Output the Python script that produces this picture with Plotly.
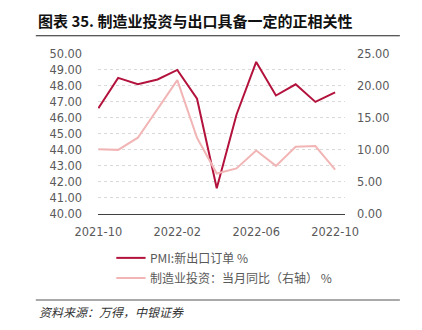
import plotly.graph_objects as go

W, H = 422, 330

months = ["2021-10", "2021-11", "2021-12", "2022-01", "2022-02", "2022-03", "2022-04",
          "2022-05", "2022-06", "2022-07", "2022-08", "2022-09", "2022-10"]
pmi_export = [46.6, 48.5, 48.1, 48.4, 49.0, 47.2, 41.6, 46.2, 49.5, 47.4, 48.1, 47.0, 47.6]
mfg_invest = [10.1, 10.0, 11.9, None, 20.9, 11.9, 6.3, 7.1, 9.9, 7.5, 10.5, 10.6, 6.9]
tick_labels = ["2021-10", "2022-02", "2022-06", "2022-10"]

title = "图表 35. 制造业投资与出口具备一定的正相关性"
name_pmi = "PMI:新出口订单 %"
name_inv = "制造业投资：当月同比（右轴） %"
source = "资料来源：万得，中银证券"

c_pmi = "#B3123C"
c_inv = "#F2B5B5"
grey = "#595959"

def px(x):
    return x / W

def py(y):
    return 1 - y / H

xs = list(range(len(months)))
tickvals = [months.index(t) for t in tick_labels]

fig = go.Figure()
fig.add_trace(go.Scatter(x=xs, y=pmi_export, mode="lines", name=name_pmi,
                         line=dict(color=c_pmi, width=2), yaxis="y"))
fig.add_trace(go.Scatter(x=xs, y=mfg_invest, mode="lines", name=name_inv,
                         line=dict(color=c_inv, width=2), connectgaps=True, yaxis="y2"))

tickfont = dict(family="DejaVu Sans", size=11.4, color=grey)

fig.update_layout(
    width=W, height=H,
    margin=dict(l=0, r=0, t=0, b=0),
    paper_bgcolor="white", plot_bgcolor="white",
    showlegend=False,
    xaxis=dict(domain=[px(82), px(352)], range=[-0.02, 12.5],
               tickvals=tickvals, ticktext=tick_labels, tickfont=tickfont,
               showgrid=False, zeroline=False, showline=True, linecolor="#404040",
               linewidth=1, ticks="", ticklen=0, ticklabelstandoff=7),
    yaxis=dict(domain=[py(216), py(49)], range=[40, 50], dtick=1,
               tickformat=".2f", tickfont=tickfont, showgrid=True,
               gridcolor="#D9D9D9", griddash="dot", gridwidth=1,
               zeroline=False, showline=False, ticks="", ticklabelstandoff=15),
    yaxis2=dict(domain=[py(216), py(49)], range=[0, 25], dtick=5, overlaying="y",
                side="right", anchor="x", tickformat=".2f", tickfont=tickfont,
                showgrid=False, zeroline=False, showline=False, ticks="",
                ticklabelstandoff=11),
    font=dict(family="Noto Sans CJK SC", color=grey),
)

shapes = [
    dict(type="line", xref="paper", yref="paper", x0=px(14), x1=px(412), y0=py(30), y1=py(30),
         line=dict(color="#222222", width=1.2)),
    dict(type="line", xref="paper", yref="paper", x0=px(14), x1=px(412), y0=py(306), y1=py(306),
         line=dict(color="#555555", width=1.2)),
    dict(type="line", xref="paper", yref="paper", x0=px(102), x1=px(134), y0=py(262), y1=py(262),
         line=dict(color=c_pmi, width=2)),
    dict(type="line", xref="paper", yref="paper", x0=px(102), x1=px(134), y0=py(283), y1=py(283),
         line=dict(color=c_inv, width=2)),
]
fig.update_layout(shapes=shapes)

ann = [
    dict(text="<b>" + title + "</b>", x=px(14), y=py(14), xanchor="left", yanchor="middle",
         font=dict(family="Noto Sans CJK SC", size=15, color="#111111")),
    dict(text=name_pmi, x=px(137), y=py(262), xanchor="left", yanchor="middle",
         font=dict(family="Noto Sans CJK SC", size=12, color=grey)),
    dict(text=name_inv, x=px(137), y=py(283), xanchor="left", yanchor="middle",
         font=dict(family="Noto Sans CJK SC", size=12, color=grey)),
    dict(text="<i>" + source + "</i>", x=px(15), y=py(318), xanchor="left", yanchor="middle",
         font=dict(family="Noto Sans CJK SC", size=12, color="#333333")),
]
for a in ann:
    a.update(xref="paper", yref="paper", showarrow=False)
fig.update_layout(annotations=ann)

fig.write_html("out.html")
